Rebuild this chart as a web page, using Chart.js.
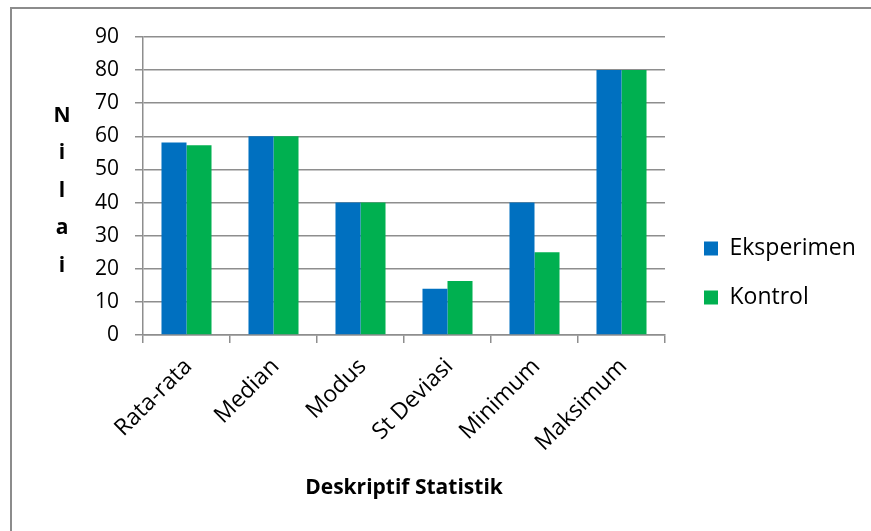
<!DOCTYPE html>
<html><head><meta charset="utf-8">
<script src="https://cdn.jsdelivr.net/npm/chart.js@4.4.1/dist/chart.umd.min.js"></script>
<style>
html,body{margin:0;padding:0;background:#fff;}
#wrap{position:relative;width:871px;height:531px;overflow:hidden;background:#fff;}
#frame{position:absolute;left:10px;top:7px;width:900px;height:600px;border-left:2px solid #8c8c8c;border-top:2px solid #8c8c8c;pointer-events:none;}
canvas{position:absolute;left:0;top:0;}
</style></head><body>
<div id="wrap"><canvas id="c" width="871" height="531"></canvas><div id="frame"></div></div>
<script>
const categories = ['Rata-rata', 'Median', 'Modus', 'St Deviasi', 'Minimum', 'Maksimum'];
const eksperimen = [58.1, 60, 40, 14, 40, 80];
const kontrol = [57.3, 60, 40, 16.3, 25, 80];
const seriesNames = ['Eksperimen', 'Kontrol'];
const yTickValues = [0, 10, 20, 30, 40, 50, 60, 70, 80, 90];
const xTitle = 'Deskriptif Statistik';
const yTitle = 'Nilai';

const FONT = '"Open Sans"';
const GRID = '#8e8e8e';

const yTitlePlugin = {
  id: 'yTitleStack',
  afterDraw(chart) {
    const ctx = chart.ctx;
    ctx.save();
    ctx.font = 'bold 21px ' + FONT;
    ctx.fillStyle = '#000';
    ctx.textAlign = 'center';
    ctx.textBaseline = 'middle';
    const letters = yTitle.split('');
    const start = chart.chartArea.top + 79;
    letters.forEach((ch, i) => ctx.fillText(ch, 62, start + i * 37.5));
    ctx.restore();
  }
};

const legendPlace = {
  id: 'legendPlace',
  afterInit(chart) {
    const lg = chart.legend;
    if (!lg) return;
    const orig = lg.fit;
    lg.fit = function () { orig.call(this); this.width = 206; };
  },
  afterLayout(chart) {
    const lg = chart.legend;
    if (!lg) return;
    const w = lg.width;
    lg.left = 678; lg.right = 678 + w;
    lg.top = 0; lg.bottom = 546;
  }
};

new Chart(document.getElementById('c'), {
  type: 'bar',
  data: {
    labels: categories,
    datasets: [
      { label: seriesNames[0], data: eksperimen, backgroundColor: '#0070C0', borderWidth: 0 },
      { label: seriesNames[1], data: kontrol, backgroundColor: '#00B050', borderWidth: 0 }
    ]
  },
  options: {
    responsive: false,
    animation: false,
    devicePixelRatio: 1,
    layout: { padding: { left: 0, right: 0, top: 37, bottom: 0 } },
    datasets: { bar: { barPercentage: 1, categoryPercentage: 0.575 } },
    plugins: {
      tooltip: { enabled: false },
      legend: {
        position: 'right',
        labels: {
          boxWidth: 14, boxHeight: 14, padding: 26,
          color: '#000',
          font: { family: FONT, size: 23 }
        }
      }
    },
    scales: {
      x: {
        afterFit(s) { s.height = 196; },
        grid: { offset: true, drawOnChartArea: false, drawTicks: true, tickLength: 8, color: GRID, lineWidth: 1.5 },
        border: { display: true, color: GRID, width: 1.5 },
        ticks: { color: '#000', font: { family: FONT, size: 23 }, maxRotation: 45, minRotation: 45, autoSkip: false, padding: 10, labelOffset: 2 },
        title: { display: true, text: xTitle, color: '#000', font: { family: FONT, size: 21, weight: 'bold' }, padding: { top: 0, bottom: 30 } }
      },
      y: {
        min: 0, max: 90,
        afterFit(s) { s.width = 143; },
        afterBuildTicks(s) { s.ticks = yTickValues.map(v => ({ value: v })); },
        grid: { color: GRID, lineWidth: 1.5, tickLength: 8, drawTicks: true },
        border: { display: true, color: GRID, width: 1.5 },
        ticks: { color: '#000', font: { family: FONT, size: 21 }, padding: 16 }
      }
    }
  },
  plugins: [yTitlePlugin, legendPlace]
});
</script>
</body></html>
